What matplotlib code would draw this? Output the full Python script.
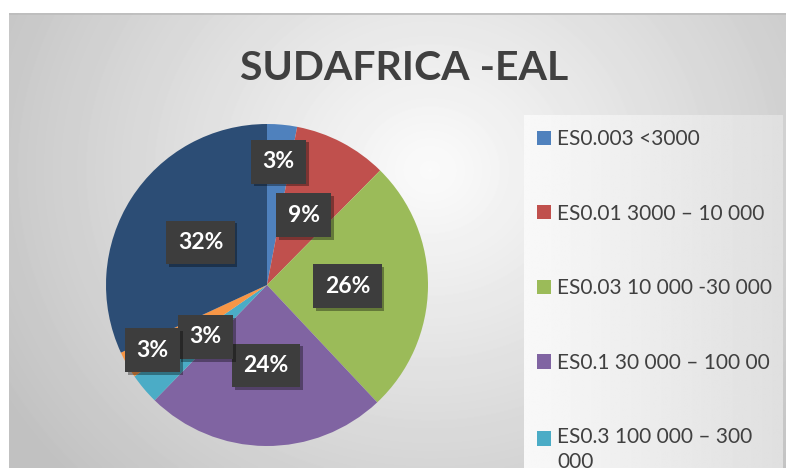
import matplotlib.pyplot as plt
import matplotlib.patheffects as pe
import numpy as np

plt.rcParams['font.family'] = ['Lato', 'DejaVu Sans']

categories = ["ES0.003 <3000", "ES0.01 3000 – 10 000", "ES0.03 10 000 -30 000",
              "ES0.1 30 000 – 100 00", "ES0.3 100 000 – 300\n000",
              "ES1 300 000 – 1 000 000", "ES3 >1 000 000"]
values = [3.0, 9.4, 25.6, 24.3, 3.1, 2.7, 31.9]
colors = ['#4f81bd', '#c0504d', '#9bbb59', '#8064a2', '#4bacc6', '#f79646', '#2c4d75']
# radial position of each percentage box (fraction of radius)
label_dist = [0.77, 0.49, 0.5, 0.5, 0.5, 0.82, 0.49]

W, H = 786, 468
fig = plt.figure(figsize=(W / 100, H / 100), dpi=100)

# chart area background: soft radial gradient
bg = fig.add_axes([9 / W, 0, (W - 9) / W, (H - 13) / H], zorder=0)
gx, gy = np.meshgrid(np.arange(9, W), np.arange(13, H))
d = np.hypot(gx - 430, (gy - 170) * 1.1)
shade = np.clip(0.985 - 0.21 * d / 460, 0.76, 1)
bg.imshow(shade, cmap='gray', vmin=0, vmax=1, aspect='auto',
          extent=(9, W, H, 13), interpolation='bilinear')
bg.axhline(13.5, color='#bcbcbc', lw=1.2)
bg.set_xlim(9, W)
bg.set_ylim(H, 13)
bg.axis('off')

# legend panel
lg = fig.add_axes([524 / W, 0, 259 / W, (H - 115) / H], zorder=1)
lx = np.linspace(0.975, 0.875, 200)[None, :] * np.ones((50, 1))
lg.imshow(lx, cmap='gray', vmin=0, vmax=1, aspect='auto', interpolation='bilinear')
lg.axis('off')

# pie
R = 161
cx, cy = 267, 285
ax = fig.add_axes([(cx - R) / W, (H - cy - R) / H, 2 * R / W, 2 * R / H], zorder=2)
ax.patch.set_alpha(0)
wedges, _ = ax.pie(values, colors=colors, startangle=90, counterclock=False,
                   radius=1, wedgeprops=dict(linewidth=0))
ax.set_xlim(-1, 1)
ax.set_ylim(-1, 1)

for w, v, dist in zip(wedges, values, label_dist):
    th = np.deg2rad((w.theta1 + w.theta2) / 2)
    t = ax.text(dist * np.cos(th), dist * np.sin(th), f"{round(v):d}%",
                ha='center', va='center', color='white', fontsize=16.5,
                fontweight='bold', zorder=5,
                bbox=dict(boxstyle='square,pad=0.5', fc='#3d3d3d', ec='none'))
    t.get_bbox_patch().set_path_effects([
        pe.SimplePatchShadow(offset=(2, -2), shadow_rgbFace='black', alpha=0.35),
        pe.Normal()])

fig.text(404 / W, 1 - 80 / H, "SUDAFRICA -EAL", ha='center', va='baseline',
         fontsize=29.5, fontweight='bold', color='#404040', zorder=3)

leg = fig.legend(wedges, categories, loc='upper left',
                 bbox_to_anchor=(537 / W, 1 - 129 / H), frameon=False,
                 fontsize=15, handlelength=0.68, handleheight=0.68,
                 handletextpad=0.3, labelspacing=2.62, borderpad=0,
                 borderaxespad=0)
for txt in leg.get_texts():
    txt.set_color('#404040')
    txt.set_linespacing(1.3)
# keep the swatch of the wrapped entry level with its first line
h5 = leg.legend_handles[4]
h5.set_y(h5.get_y() + 8.5)
leg.set_zorder(4)

fig.savefig('out.png', dpi=100)
